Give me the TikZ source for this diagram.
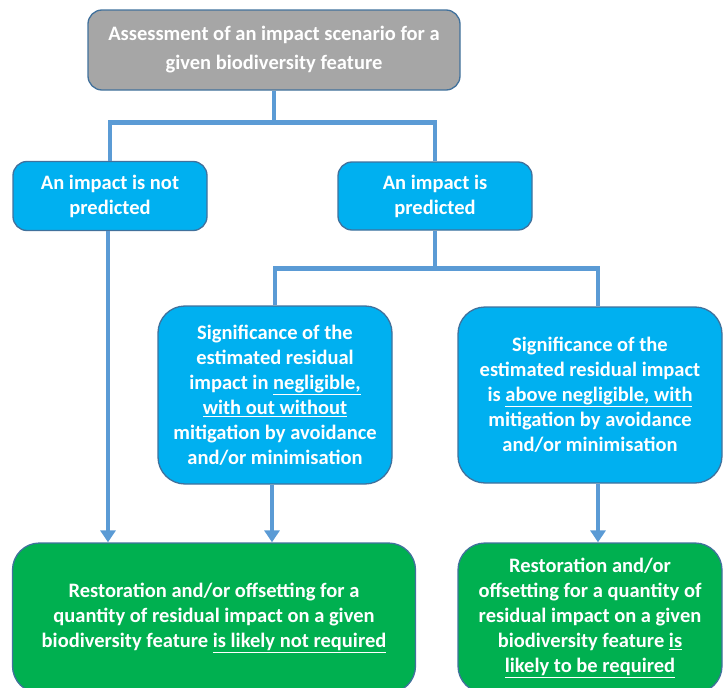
\documentclass[tikz,border=0pt]{standalone}
\usepackage{fontspec}
\setmainfont{Carlito}
\usetikzlibrary{arrows.meta}

\definecolor{boxgray}{HTML}{A6A6A6}
\definecolor{boxblue}{HTML}{00B0F0}
\definecolor{boxgreen}{HTML}{00B050}
\definecolor{rimblue}{HTML}{41719C}
\definecolor{linkblue}{HTML}{5B9BD5}

\tikzset{
  box/.style={draw=rimblue, line width=1.3pt, align=center, text=white,
    inner sep=0pt, font=\bfseries\fontsize{20.5}{25}\selectfont},
  smallbox/.style={box, rounded corners=14pt},
  bigbox/.style={box, rounded corners=27pt},
  link/.style={draw=linkblue, line width=4.5pt},
  arrowlink/.style={link, -{Triangle[width=15pt,length=12pt]}},
}

\begin{document}
\begin{tikzpicture}[x=1pt,y=-1pt]
    \useasboundingbox (0,0) rectangle (724,688);
    \clip (0,0) rectangle (724,688);

    %% top
    \node (assess) at (274,50) [smallbox, fill=boxgray, minimum width=372, minimum height=80,
      font=\bfseries\fontsize{20.5}{29}\selectfont]
      {Assessment of an impact scenario for a\\given biodiversity feature};

    %% first split
    \node (notpred) at (110,196) [smallbox, fill=boxblue, minimum width=194, minimum height=69]
      {An impact is not\\predicted};
    \node (pred) at (435,196) [smallbox, fill=boxblue, minimum width=194, minimum height=68]
      {An impact is\\predicted};

    %% second split
    \node (signeg) at (275,395) [bigbox, fill=boxblue, minimum width=234, minimum height=178]
      {Significance of the\\estimated residual\\impact in \underline{negligible,}\\
       \underline{with out without}\\mitigation by avoidance\\and/or minimisation};
    \node (sigabove) at (590,395) [bigbox, fill=boxblue, minimum width=264, minimum height=176]
      {Significance of the\\estimated residual impact\\is \underline{above negligible, with}\\
       mitigation by avoidance\\and/or minimisation};

    %% outcomes
    \node (nooffset) at (214,618) [bigbox, fill=boxgreen, minimum width=403, minimum height=150]
      {Restoration and/or offsetting for a\\quantity of residual impact on a given\\
       biodiversity feature \underline{is likely not required}};
    \node (offset) at (590,618) [bigbox, fill=boxgreen, minimum width=264, minimum height=150]
      {Restoration and/or\\offsetting for a quantity of\\residual impact on a given\\
       biodiversity feature \underline{is}\\\underline{likely to be required}};

    %% connectors
    \draw[link] (assess.south) -- ++(0,32) coordinate (splitA);
    \draw[link] (notpred.north) |- (splitA) -| (pred.north);
    \draw[link] (pred.south) -- ++(0,38) coordinate (splitB);
    \draw[link] (signeg.north) |- (splitB) -| ([xshift=8]sigabove.north);

    %% arrows
    \draw[arrowlink] ([xshift=-2]notpred.south) -- ([xshift=-2]notpred.south |- nooffset.north);
    \draw[arrowlink] ([xshift=-3]signeg.south) -- ([xshift=-3]signeg.south |- nooffset.north);
    \draw[arrowlink] ([xshift=8]sigabove.south) -- ([xshift=8]sigabove.south |- offset.north);
\end{tikzpicture}
\end{document}
